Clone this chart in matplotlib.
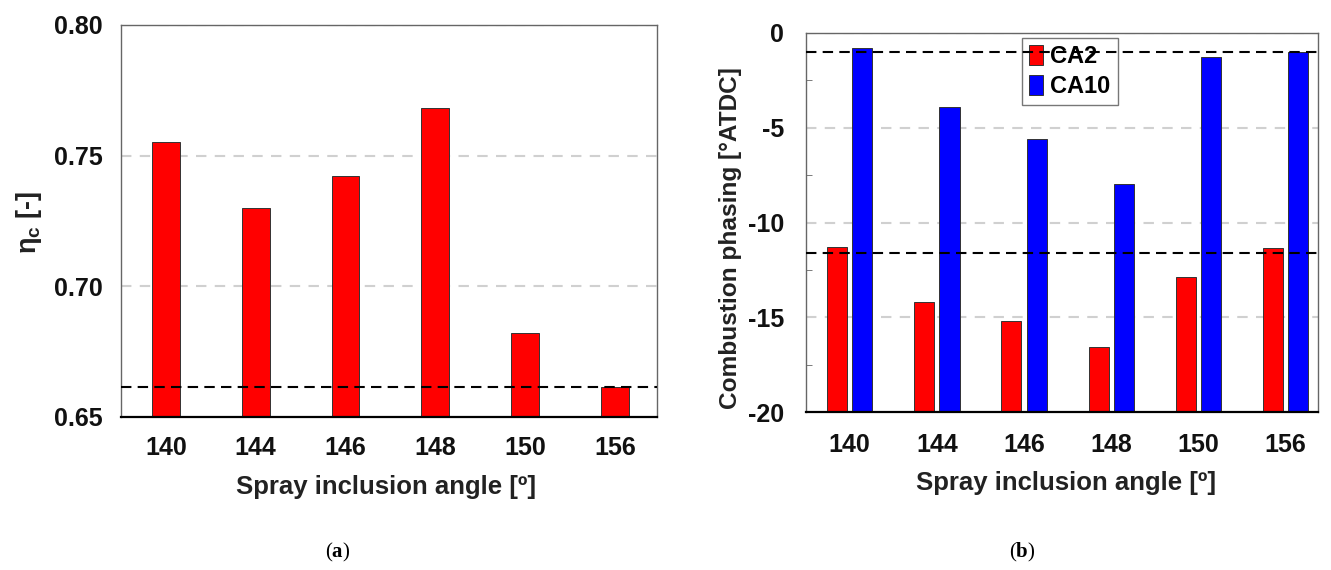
import matplotlib
matplotlib.use("Agg")
import matplotlib.pyplot as plt
from matplotlib.ticker import MultipleLocator
import numpy as np

plt.rcParams['font.family'] = ['Liberation Sans', 'DejaVu Sans']
plt.rcParams['mathtext.fontset'] = 'custom'
plt.rcParams['mathtext.rm'] = 'Liberation Sans'
plt.rcParams['mathtext.bf'] = 'Liberation Serif:bold'

angles = ["140", "144", "146", "148", "150", "156"]
eta_c = [0.7553, 0.7300, 0.7423, 0.7681, 0.6823, 0.6615]
eta_ref = 0.6615
ca2 = [-11.28, -14.18, -15.19, -16.58, -12.86, -11.35]
ca10 = [-0.79, -3.89, -5.61, -7.98, -1.28, -1.00]
ca10_ref = -1.0
ca2_ref = -11.63

W, H = 1331, 570
fig = plt.figure(figsize=(W / 100, H / 100), dpi=100)

def px_axes(l, t, r, b):
    return fig.add_axes([l / W, 1 - b / H, (r - l) / W, (b - t) / H])

tick_fs = 18
lab_fs = 18.5

# ---- (a) ----
ax1 = px_axes(121, 25, 657, 417)
x = np.arange(len(angles))
base1 = 0.65
ax1.bar(x, np.array(eta_c) - base1, bottom=base1, width=0.31, color='#ff0000',
        edgecolor='#333333', linewidth=0.7, zorder=3)
ax1.axhline(eta_ref, color='black', linestyle=(0, (5, 3)), linewidth=1.5, zorder=4)
ax1.set_ylim(0.65, 0.80)
ax1.set_xlim(-0.5, 5.47)
ax1.set_yticks([0.65, 0.70, 0.75, 0.80])
ax1.set_yticklabels(["0.65", "0.70", "0.75", "0.80"])
ax1.set_xticks(x)
ax1.set_xticklabels(angles)
for v in [0.70, 0.75, 0.80]:
    ax1.axhline(v, color='#d0d0d0', linestyle=(0, (5, 4)), linewidth=1.5, zorder=1)

# ---- (b) ----
ax2 = px_axes(806, 33, 1318, 412)
w = 0.23
off = 0.145
base2 = -20
ax2.bar(x - off, np.array(ca2) - base2, width=w, bottom=base2, color='#ff0000',
        edgecolor='#333333', linewidth=0.7, zorder=3, label='CA2')
ax2.bar(x + off, np.array(ca10) - base2, width=w, bottom=base2, color='#0000ff',
        edgecolor='#333333', linewidth=0.7, zorder=3, label='CA10')
ax2.set_ylim(-20, 0)
ax2.set_xlim(-0.5, 5.37)
ax2.set_yticks([-20, -15, -10, -5, 0])
ax2.set_yticklabels(["-20", "-15", "-10", "-5", "0"])
ax2.yaxis.set_minor_locator(MultipleLocator(2.5))
ax2.set_xticks(x)
ax2.set_xticklabels(angles)
for v in [-15, -10, -5, 0]:
    ax2.axhline(v, color='#d0d0d0', linestyle=(0, (5, 4)), linewidth=1.5, zorder=1)
leg = ax2.legend(loc='upper left', bbox_to_anchor=(0.422, 0.987), borderaxespad=0,
                 frameon=True, fancybox=False,
                 edgecolor='#777777', framealpha=1, handlelength=0.6, handleheight=0.9,
                 handletextpad=0.3, borderpad=0.3, labelspacing=0.3,
                 prop={'weight': 'bold', 'size': 17})
leg.set_zorder(5)
ax2.axhline(ca10_ref, color='black', linestyle=(0, (5, 3)), linewidth=1.5, zorder=6)
ax2.axhline(ca2_ref, color='black', linestyle=(0, (5, 3)), linewidth=1.5, zorder=6)

for ax, pad_x, pad_y in [(ax1, 14, 13), (ax2, 15, 16)]:
    ax.set_facecolor('white')
    for s in ['top', 'left', 'right']:
        ax.spines[s].set_color('#666666')
        ax.spines[s].set_linewidth(1.0)
    ax.spines['bottom'].set_color('black')
    ax.spines['bottom'].set_linewidth(1.6)
    ax.spines['bottom'].set_zorder(7)
    ax.tick_params(axis='x', length=0, pad=pad_x, labelsize=tick_fs)
    ax.tick_params(axis='y', which='major', length=0, pad=pad_y, labelsize=tick_fs)
    ax.tick_params(axis='y', which='minor', direction='in', length=4, color='#666666')
    for lbl in ax.get_xticklabels() + ax.get_yticklabels():
        lbl.set_fontweight('bold')
        lbl.set_color('#111111')

# labels
fig.text(386 / W, 1 - 487 / H, "Spray inclusion angle [º]", ha='center', va='center',
         fontsize=lab_fs, fontweight='bold', color='#222222')
fig.text(1066 / W, 1 - 483 / H, "Spray inclusion angle [º]", ha='center', va='center',
         fontsize=lab_fs, fontweight='bold', color='#222222')
fig.text(29 / W, 1 - 222 / H, r"η$_{\mathregular{c}}$ [-]", ha='center', va='center', rotation=90,
         fontsize=19.5, fontweight='bold', color='#222222')
fig.text(730 / W, 1 - 238 / H, "Combustion phasing [°ATDC]", ha='center', va='center', rotation=90,
         fontsize=17.6, fontweight='bold', color='#222222')

fig.text(338 / W, 1 - 552 / H, r"($\mathbf{a}$)", ha='center', va='center', fontsize=15,
         family='Liberation Serif')
fig.text(1022 / W, 1 - 552 / H, r"($\mathbf{b}$)", ha='center', va='center', fontsize=15,
         family='Liberation Serif')

fig.savefig("out.png", dpi=100, facecolor='white')
